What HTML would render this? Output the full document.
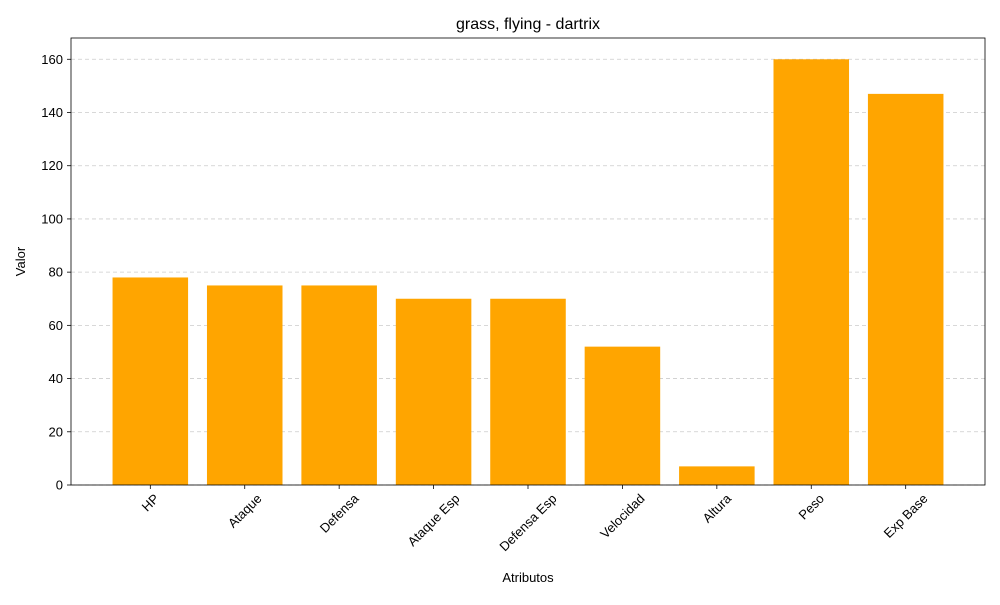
<!DOCTYPE html>
<html><head><meta charset="utf-8"><style>
body{margin:0;background:#fff;font-family:"Liberation Sans","DejaVu Sans",sans-serif;}
</style></head><body>
<svg id="chart" width="1000" height="600" xmlns="http://www.w3.org/2000/svg"></svg>
<script>
const categories=["HP","Ataque","Defensa","Ataque Esp","Defensa Esp","Velocidad","Altura","Peso","Exp Base"];
const values=[78,75,75,70,70,52,7,160,147];
const yTicks=[0,20,40,60,80,100,120,140,160];
const svg=document.getElementById('chart');
const NS='http://www.w3.org/2000/svg';
const L=71,R=985,T=38,B=485,yMax=168;
const xMin=-0.84,xMax=categories.length-1+0.84;
const xs=v=>L+(v-xMin)/(xMax-xMin)*(R-L);
const ys=v=>B-v/yMax*(B-T);
function mk(tag,attrs,text){const e=document.createElementNS(NS,tag);for(const k in attrs)e.setAttribute(k,attrs[k]);if(text!==undefined)e.textContent=text;svg.appendChild(e);return e;}
yTicks.forEach(t=>{
 const g=mk('line',{x1:L,x2:R,y1:ys(t),y2:ys(t),stroke:'#ccc','stroke-dasharray':'4,3','stroke-width':0.8});
 
 
});
categories.forEach((c,i)=>{
 const w=0.8*(R-L)/(xMax-xMin);
 const b=mk('rect',{x:xs(i)-w/2,y:ys(values[i]),width:w,height:B-ys(values[i]),fill:'#ffa500'});
 
 
 const tk=mk('line',{x1:xs(i),x2:xs(i),y1:B,y2:B+4,stroke:'#000','stroke-width':0.8});
 
 
 const lb=mk('text',{x:0,y:0,'font-size':13,'text-anchor':'middle'},c);
 
 
 const tw=lb.getComputedTextLength(),th=12;
 const half=(tw*0.7071+th*0.7071)/2;
 const cx=xs(i),cy=B+7+half;
 lb.setAttribute('x',cx);lb.setAttribute('y',cy+4.5);
 lb.setAttribute('transform',`rotate(-45 ${cx} ${cy})`);
});
yTicks.forEach(t=>{
 const tk=mk('line',{x1:L-4,x2:L,y1:ys(t),y2:ys(t),stroke:'#000','stroke-width':0.8});
 
 
 const lb=mk('text',{x:L-8,y:ys(t)+4.5,'font-size':13,'text-anchor':'end'},t);
 
 
});
const fr=mk('rect',{x:L,y:T,width:R-L,height:B-T,fill:'none',stroke:'#000','stroke-width':0.8});


const ti=mk('text',{x:(L+R)/2,y:29,'font-size':16,'text-anchor':'middle'},'grass, flying - dartrix');


const xt=mk('text',{x:(L+R)/2,y:582,'font-size':13,'text-anchor':'middle'},'Atributos');


const yt=mk('text',{x:25,y:(T+B)/2,'font-size':13,'text-anchor':'middle',transform:`rotate(-90 25 ${(T+B)/2})`},'Valor');


</script>
</body></html>
